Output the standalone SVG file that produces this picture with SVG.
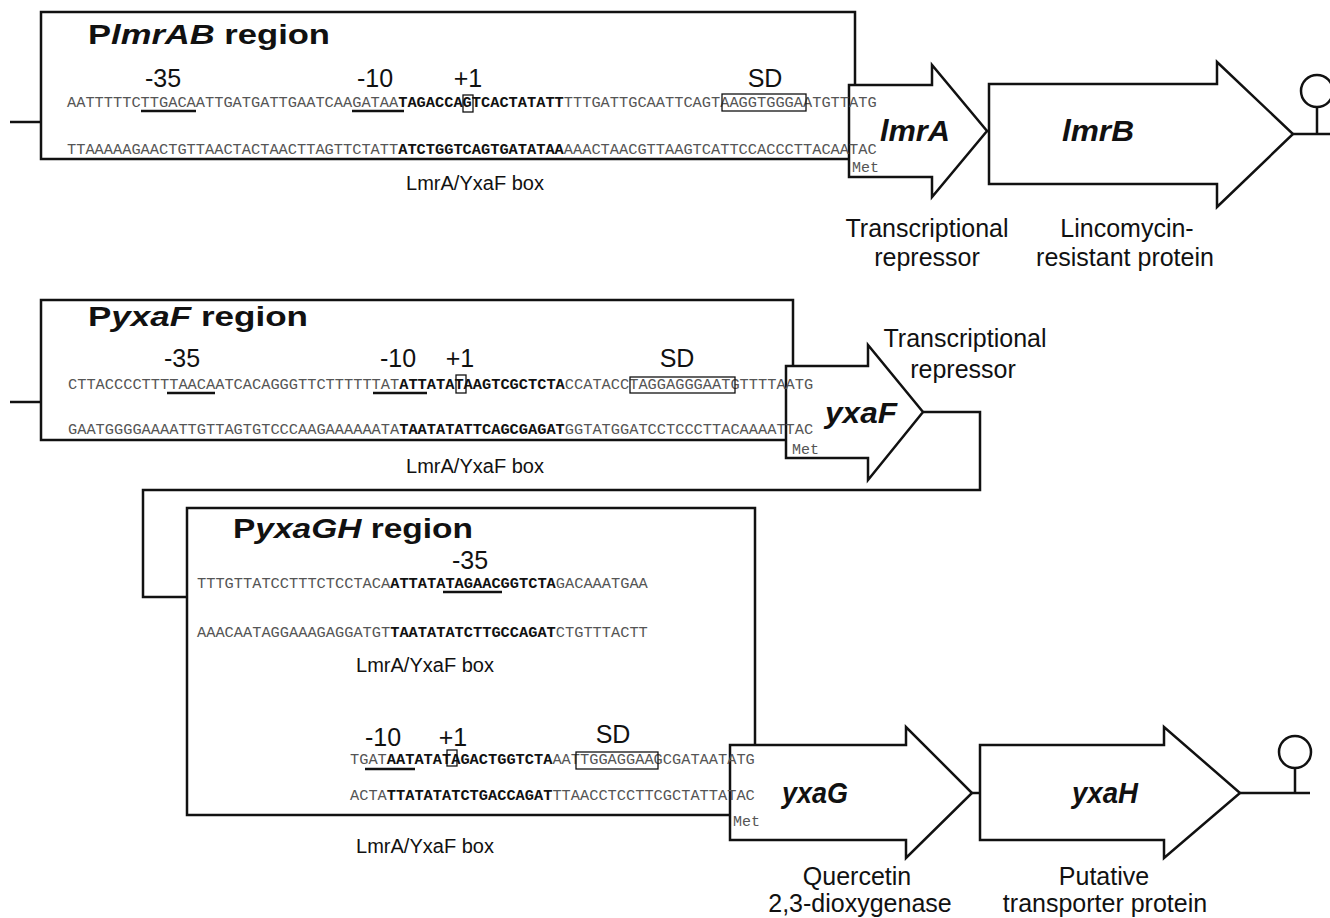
<svg xmlns="http://www.w3.org/2000/svg" width="1330" height="918" viewBox="0 0 1330 918">
<style>
.seq{font-family:"Liberation Mono",monospace;font-size:15px;fill:#555}
.b{font-weight:bold;fill:#111}
.lab{font-family:"Liberation Sans",Arial,sans-serif;font-size:25px;fill:#111;text-anchor:middle}
.bxl{font-family:"Liberation Sans",Arial,sans-serif;font-size:20px;fill:#111;text-anchor:middle}
.title{font-family:"Liberation Sans",Arial,sans-serif;font-size:28px;font-weight:bold;fill:#111}
.gene{font-family:"Liberation Sans",Arial,sans-serif;font-size:30px;font-weight:bold;font-style:italic;fill:#111;text-anchor:middle}
.met{font-family:"Liberation Mono",monospace;font-size:15px;fill:#555}
.ln{fill:none;stroke:#111;stroke-width:2.5}
.arrow{fill:#fff;stroke:#111;stroke-width:2.5}
.ul{stroke:#111;stroke-width:2.5}
.bx{fill:none;stroke:#111;stroke-width:1.3}
</style>

<g id="connectors">
  <path class="ln" d="M10,122 H41"/>
  <path class="ln" d="M10,402 H41"/>
  <path class="ln" stroke-width="3" d="M923,412 H980 V490 H143 V597 H187"/>
  <path class="ln" d="M987,131 H989"/>
  <path class="ln" d="M972,793 H980"/>
</g>

<g id="lmrA">
  <path class="arrow" d="M849,85 H932 V65 L987,131 L932,197 V177 H849 Z"/>
  <text class="gene" x="915" y="141" textLength="70" lengthAdjust="spacingAndGlyphs">lmrA</text>
  <text class="lab" x="927" y="237">Transcriptional</text>
  <text class="lab" x="927" y="266">repressor</text>
</g>
<g id="lmrB">
  <path class="arrow" d="M989,84 H1217 V62 L1293,134 L1217,207 V184 H989 Z"/>
  <text class="gene" x="1098" y="141" textLength="72" lengthAdjust="spacingAndGlyphs">lmrB</text>
  <text class="lab" x="1127" y="237">Lincomycin-</text>
  <text class="lab" x="1125" y="266">resistant protein</text>
</g>
<g id="term1">
  <path class="ln" d="M1293,134 H1330 M1317,134 V107"/>
  <circle class="ln" cx="1317" cy="91" r="16"/>
</g>

<g id="PlmrAB">
  <path class="ln" d="M855,85 V12 H41 V159 H849"/>
  <text class="title" x="88" y="44" textLength="242" lengthAdjust="spacingAndGlyphs">P<tspan font-style="italic">lmrAB</tspan> region</text>
  <text class="lab" x="163" y="87">-35</text>
  <text class="lab" x="375" y="87">-10</text>
  <text class="lab" x="468" y="87">+1</text>
  <text class="lab" x="765" y="87">SD</text>
  <text class="seq" x="67" y="107" textLength="331.2" lengthAdjust="spacingAndGlyphs">AATTTTTCTTGACAATTGATGATTGAATCAAGATAA</text>
  <text class="seq b" x="398.2" y="107" textLength="165.6" lengthAdjust="spacingAndGlyphs">TAGACCAGTCACTATATT</text>
  <text class="seq" x="563.8" y="107" textLength="312.8" lengthAdjust="spacingAndGlyphs">TTTGATTGCAATTCAGTAAGGTGGGAATGTTATG</text>
  <text class="seq" x="67" y="154" textLength="331.2" lengthAdjust="spacingAndGlyphs">TTAAAAAGAACTGTTAACTACTAACTTAGTTCTATT</text>
  <text class="seq b" x="398.2" y="154" textLength="165.6" lengthAdjust="spacingAndGlyphs">ATCTGGTCAGTGATATAA</text>
  <text class="seq" x="563.8" y="154" textLength="312.8" lengthAdjust="spacingAndGlyphs">AAACTAACGTTAAGTCATTCCACCCTTACAATAC</text>
  <line class="ul" x1="141" y1="111" x2="196" y2="111"/>
  <line class="ul" x1="352" y1="111" x2="404" y2="111"/>
  <rect class="bx" x="463" y="95" width="10" height="17"/>
  <rect class="bx" x="722" y="94" width="84" height="17"/>
  <text class="bxl" x="475" y="190">LmrA/YxaF box</text>
  <text class="met" x="852" y="172">Met</text>
</g>

<g id="yxaF">
  <path class="arrow" d="M786,366 H868 V345 L923,412 L868,480 V458 H786 Z"/>
  <text class="gene" x="861" y="423" textLength="72" lengthAdjust="spacingAndGlyphs">yxaF</text>
  <text class="lab" x="965" y="347">Transcriptional</text>
  <text class="lab" x="963" y="378">repressor</text>
</g>

<g id="PyxaF">
  <path class="ln" d="M793,366 V300 H41 V440 H786"/>
  <text class="title" x="88" y="326" textLength="220" lengthAdjust="spacingAndGlyphs">P<tspan font-style="italic">yxaF</tspan> region</text>
  <text class="lab" x="182" y="367">-35</text>
  <text class="lab" x="398" y="367">-10</text>
  <text class="lab" x="460" y="367">+1</text>
  <text class="lab" x="677" y="367">SD</text>
  <text class="seq" x="68" y="389" textLength="331.2" lengthAdjust="spacingAndGlyphs">CTTACCCCTTTTAACAATCACAGGGTTCTTTTTTAT</text>
  <text class="seq b" x="399.2" y="389" textLength="165.6" lengthAdjust="spacingAndGlyphs">ATTATATAAGTCGCTCTA</text>
  <text class="seq" x="564.8" y="389" textLength="248.4" lengthAdjust="spacingAndGlyphs">CCATACCTAGGAGGGAATGTTTTAATG</text>
  <text class="seq" x="68" y="434" textLength="331.2" lengthAdjust="spacingAndGlyphs">GAATGGGGAAAATTGTTAGTGTCCCAAGAAAAAATA</text>
  <text class="seq b" x="399.2" y="434" textLength="165.6" lengthAdjust="spacingAndGlyphs">TAATATATTCAGCGAGAT</text>
  <text class="seq" x="564.8" y="434" textLength="248.4" lengthAdjust="spacingAndGlyphs">GGTATGGATCCTCCCTTACAAAATTAC</text>
  <line class="ul" x1="167" y1="393" x2="215" y2="393"/>
  <line class="ul" x1="373" y1="393" x2="427" y2="393"/>
  <rect class="bx" x="456" y="375" width="10" height="18"/>
  <rect class="bx" x="630" y="377" width="105" height="16"/>
  <text class="bxl" x="475" y="473">LmrA/YxaF box</text>
  <text class="met" x="792" y="454">Met</text>
</g>

<g id="yxaG">
  <path class="arrow" d="M730,745 H906 V727 L972,793 L906,858 V840 H730 Z"/>
  <text class="gene" x="815" y="803" textLength="66" lengthAdjust="spacingAndGlyphs">yxaG</text>
  <text class="lab" x="857" y="885">Quercetin</text>
  <text class="lab" x="860" y="912">2,3-dioxygenase</text>
</g>
<g id="yxaH">
  <path class="arrow" d="M980,745 H1164 V727 L1240,793 L1164,858 V840 H980 Z"/>
  <text class="gene" x="1105" y="803" textLength="66" lengthAdjust="spacingAndGlyphs">yxaH</text>
  <text class="lab" x="1104" y="885">Putative</text>
  <text class="lab" x="1105" y="912">transporter protein</text>
</g>
<g id="term2">
  <path class="ln" d="M1240,793 H1310 M1295,793 V768"/>
  <circle class="ln" cx="1295" cy="752" r="16"/>
</g>

<g id="PyxaGH">
  <path class="ln" d="M755,745 V508 H187 V815 H730"/>
  <text class="title" x="233" y="538" textLength="240" lengthAdjust="spacingAndGlyphs">P<tspan font-style="italic">yxaGH</tspan> region</text>
  <text class="lab" x="470" y="569">-35</text>
  <text class="seq" x="197" y="588" textLength="193.2" lengthAdjust="spacingAndGlyphs">TTTGTTATCCTTTCTCCTACA</text>
  <text class="seq b" x="390.2" y="588" textLength="165.6" lengthAdjust="spacingAndGlyphs">ATTATATAGAACGGTCTA</text>
  <text class="seq" x="555.8" y="588" textLength="92" lengthAdjust="spacingAndGlyphs">GACAAATGAA</text>
  <text class="seq" x="197" y="637" textLength="193.2" lengthAdjust="spacingAndGlyphs">AAACAATAGGAAAGAGGATGT</text>
  <text class="seq b" x="390.2" y="637" textLength="165.6" lengthAdjust="spacingAndGlyphs">TAATATATCTTGCCAGAT</text>
  <text class="seq" x="555.8" y="637" textLength="92" lengthAdjust="spacingAndGlyphs">CTGTTTACTT</text>
  <line class="ul" x1="443" y1="592" x2="502" y2="592"/>
  <text class="bxl" x="425" y="672">LmrA/YxaF box</text>
  <text class="lab" x="383" y="746">-10</text>
  <text class="lab" x="453" y="746">+1</text>
  <text class="lab" x="613" y="743">SD</text>
  <text class="seq" x="350" y="764" textLength="36.8" lengthAdjust="spacingAndGlyphs">TGAT</text>
  <text class="seq b" x="386.8" y="764" textLength="165.6" lengthAdjust="spacingAndGlyphs">AATATATAGACTGGTCTA</text>
  <text class="seq" x="552.4" y="764" textLength="202.4" lengthAdjust="spacingAndGlyphs">AATTGGAGGAAGCGATAATATG</text>
  <text class="seq" x="350" y="800" textLength="36.8" lengthAdjust="spacingAndGlyphs">ACTA</text>
  <text class="seq b" x="386.8" y="800" textLength="165.6" lengthAdjust="spacingAndGlyphs">TTATATATCTGACCAGAT</text>
  <text class="seq" x="552.4" y="800" textLength="202.4" lengthAdjust="spacingAndGlyphs">TTAACCTCCTTCGCTATTATAC</text>
  <line class="ul" x1="365" y1="769" x2="415" y2="769"/>
  <rect class="bx" x="447" y="750" width="10" height="16"/>
  <rect class="bx" x="576" y="752" width="82" height="17"/>
  <text class="bxl" x="425" y="853">LmrA/YxaF box</text>
  <text class="met" x="733" y="826">Met</text>
</g>
</svg>
